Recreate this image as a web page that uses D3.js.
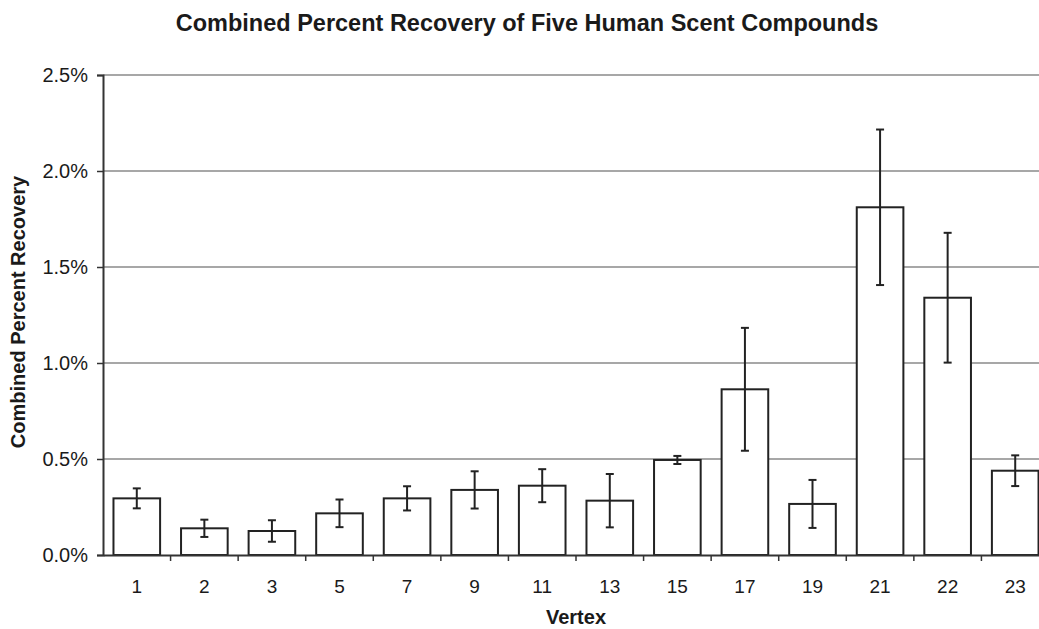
<!DOCTYPE html>
<html>
<head>
<meta charset="utf-8">
<script src="https://cdn.jsdelivr.net/npm/d3@7"></script>
<style>
  html, body { margin: 0; padding: 0; background: #fff; }
  svg { display: block; }
  text { font-family: "Liberation Sans", Arial, sans-serif; fill: #1a1a1a; }
</style>
</head>
<body>
<svg id="chart" width="1039" height="629"></svg>
<script>
// Data (values in percent)
const categories = ["1","2","3","5","7","9","11","13","15","17","19","21","22","23"];
const recovery   = [0.295,0.139,0.125,0.217,0.295,0.339,0.361,0.283,0.495,0.863,0.266,1.811,1.340,0.439];
const errorHalf  = [0.052,0.045,0.056,0.072,0.063,0.097,0.086,0.139,0.021,0.320,0.125,0.405,0.338,0.080];
const yTicks     = [0, 0.5, 1.0, 1.5, 2.0, 2.5];
const titleText  = "Combined Percent Recovery of Five Human Scent Compounds";
const xLabel     = "Vertex";
const yLabel     = "Combined Percent Recovery";

const svg = d3.select("#chart");
const plotL = 103, plotR = 1049, plotT = 75, plotB = 555;

const x = d3.scaleBand().domain(categories).range([plotL, plotR]).paddingInner(0.31).paddingOuter(0.155);
const xb = d3.scaleBand().domain(categories).range([plotL, plotR]);
const y = d3.scaleLinear().domain([0, 2.5]).range([plotB, plotT]);

// gridlines
svg.append("g").selectAll("line").data(yTicks.filter(d => d > 0)).join("line")
  .attr("x1", plotL).attr("x2", plotR)
  .attr("y1", d => y(d)).attr("y2", d => y(d))
  .attr("stroke", "#8a8a8a").attr("stroke-width", 1.3);

// bars
svg.append("g").selectAll("rect").data(categories).join("rect")
  .attr("x", d => x(d)).attr("width", x.bandwidth())
  .attr("y", (d, i) => y(recovery[i]))
  .attr("height", (d, i) => y(0) - y(recovery[i]))
  .attr("fill", "#fff").attr("stroke", "#222").attr("stroke-width", 2);

// error bars
const eb = svg.append("g").attr("stroke", "#222").attr("stroke-width", 2);
categories.forEach((c, i) => {
  const cx = x(c) + x.bandwidth() / 2;
  const hi = y(recovery[i] + errorHalf[i]), lo = y(recovery[i] - errorHalf[i]);
  eb.append("line").attr("x1", cx).attr("x2", cx).attr("y1", hi).attr("y2", lo);
  eb.append("line").attr("x1", cx - 4).attr("x2", cx + 4).attr("y1", hi).attr("y2", hi);
  eb.append("line").attr("x1", cx - 4).attr("x2", cx + 4).attr("y1", lo).attr("y2", lo);
});

// y axis
const yAxis = svg.append("g").attr("transform", `translate(${plotL},0)`)
  .call(d3.axisLeft(y).tickValues(yTicks).tickFormat(d => d.toFixed(1) + "%").tickSize(6).tickPadding(9));
yAxis.select(".domain").attr("stroke", "#333").attr("stroke-width", 2);
yAxis.selectAll(".tick line").attr("stroke", "#333").attr("stroke-width", 1.5);
yAxis.selectAll(".tick text").style("font-size", "20px").attr("fill", "#222");

// x axis
const xAxis = svg.append("g").attr("transform", `translate(0,${plotB})`)
  .call(d3.axisBottom(xb).tickSize(0).tickPadding(25));
xAxis.select(".domain").attr("stroke", "#333").attr("stroke-width", 2);
xAxis.selectAll(".tick text").style("font-size", "19px").attr("fill", "#222");
// boundary ticks between categories
svg.append("g").selectAll("line").data(categories.slice(1)).join("line")
  .attr("x1", d => xb(d)).attr("x2", d => xb(d))
  .attr("y1", plotB).attr("y2", plotB + 6)
  .attr("stroke", "#333").attr("stroke-width", 1.5);

// title
svg.append("text").attr("x", 527).attr("y", 31).attr("text-anchor", "middle")
  .style("font-size", "23.5px").style("font-weight", "bold").text(titleText);

// axis labels
svg.append("text").attr("x", (plotL + plotR) / 2).attr("y", 624).attr("text-anchor", "middle")
  .style("font-size", "20px").style("font-weight", "bold").text(xLabel);
svg.append("text").attr("transform", `translate(25,312) rotate(-90)`)
  .attr("text-anchor", "middle")
  .style("font-size", "20px").style("font-weight", "bold").text(yLabel);
</script>
</body>
</html>
